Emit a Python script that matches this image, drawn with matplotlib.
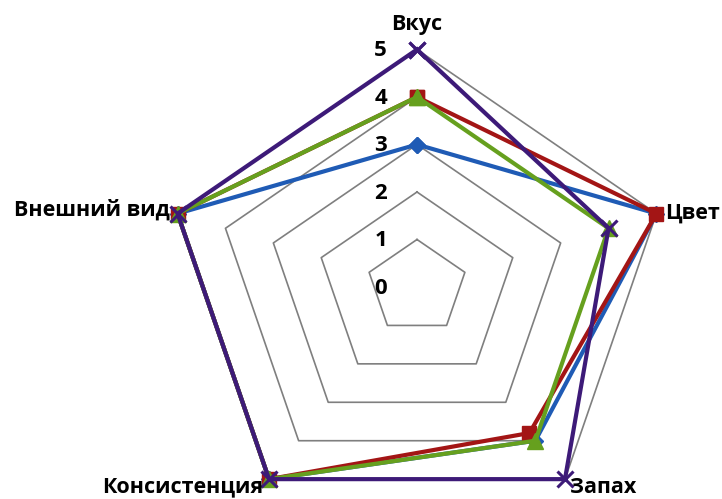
import numpy as np
import matplotlib.pyplot as plt

categories = ['Вкус', 'Цвет', 'Запах', 'Консистенция', 'Внешний вид']
rings = [0, 1, 2, 3, 4, 5]

series_blue = [3, 5, 4, 5, 5]
series_red = [4, 5, 3.8, 5, 5]
series_green = [4, 4, 4, 5, 5]
series_purple = [5, 4, 5, 5, 5]

# image is stretched a bit horizontally
X_STRETCH = 1.06
CX, CY = 417, 287
UNIT = 47.5
W, H = 722, 499

angles = np.deg2rad(np.arange(len(categories)) * 360 / len(categories))


def to_xy(values):
    vals = np.append(values, values[0])
    ang = np.append(angles, angles[0])
    return vals * np.sin(ang), vals * np.cos(ang)


fig = plt.figure(figsize=(W / 100, H / 100), dpi=100)
ax = fig.add_axes([0, 0, 1, 1])
ax.set_xlim(-CX / (UNIT * X_STRETCH), (W - CX) / (UNIT * X_STRETCH))
ax.set_ylim(-(H - CY) / UNIT, CY / UNIT)
ax.axis('off')

for r in rings[1:]:
    gx, gy = to_xy([r] * len(categories))
    ax.plot(gx, gy, color='#7f7f7f', lw=1.2, zorder=1)

styles = [
    (series_blue, '#1f5bb5', 'D', 8, 2),
    (series_red, '#a31515', 's', 10, 3),
    (series_green, '#66a01e', '^', 11, 4),
    (series_purple, '#3d1a78', 'x', 12, 5),
]
for vals, col, mk, ms, z in styles:
    sx, sy = to_xy(vals)
    ax.plot(sx, sy, color=col, lw=3, marker=mk, ms=ms, mew=2.2 if mk == 'x' else 1,
            mec=col, mfc=col, zorder=z)

for r in rings:
    ax.text(-0.72, r - 0.03, str(r), ha='center', va='center', fontsize=16,
            fontweight='bold', family='Open Sans', zorder=6)

label_pos = [
    (0, 5.52, 'center', 'center'),
    (4.93, 1.56, 'left', 'center'),
    (3.04, -4.23, 'left', 'center'),
    (-3.06, -4.2, 'right', 'center'),
    (-4.9, 1.62, 'right', 'center'),
]
for name, (lx, ly, ha, va) in zip(categories, label_pos):
    ax.text(lx, ly, name, ha=ha, va=va, fontsize=15.5, fontweight='bold',
            family='Open Sans', zorder=6)

fig.savefig('out.png', dpi=100)
